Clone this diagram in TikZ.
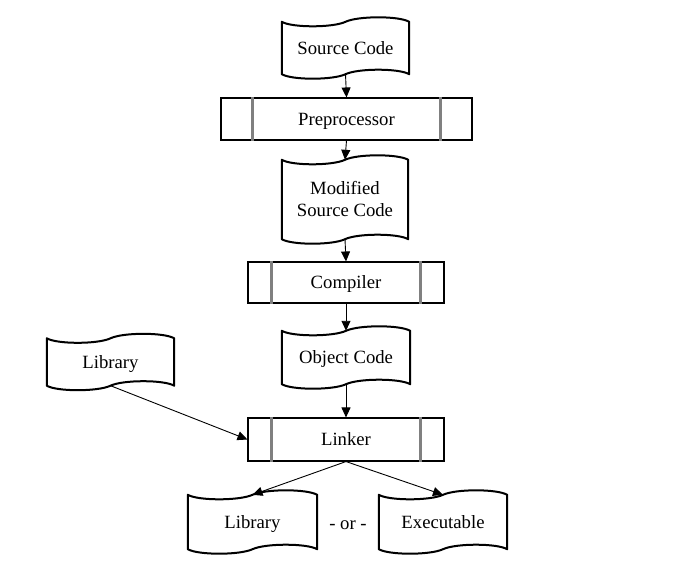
\documentclass[tikz,border=0pt]{standalone}
\usepackage{fontspec}
\setmainfont{Liberation Serif}
\usetikzlibrary{arrows.meta,calc}
\definecolor{bargray}{RGB}{128,128,128}
\tikzset{
  tapenode/.style={draw=none, inner sep=0pt, align=center, font=\fontsize{18.7}{22}\selectfont},
  tapeone/.style={tapenode, text height=12.5pt, text depth=0.5pt},
  tapeline/.style={line width=2pt, line join=round},
  procbox/.style={draw, line width=1.1pt, inner sep=0pt, text height=12.5pt, text depth=0.5pt, font=\fontsize{18.7}{22}\selectfont},
  innerline/.style={draw=bargray, line width=2.2pt},
  conn/.style={line width=0.9pt, -{Triangle[length=10pt,width=9pt]}},
  plaintext/.style={inner sep=0pt, font=\fontsize{18.7}{22}\selectfont}
}
\newcommand\drawtape[1]{%
  \draw[tapeline] let \p1=(#1.north west), \p2=(#1.south east), \n1={\x2-\x1}, \n2={6pt} in
   (\x1,\y1) .. controls (\x1+0.08*\n1,\y1-\n2) and (\x1+0.40*\n1,\y1-\n2) .. (\x1+0.5*\n1,\y1)
   .. controls (\x1+0.60*\n1,\y1+\n2) and (\x1+0.92*\n1,\y1+\n2) .. (\x2,\y1)
   -- (\x2,\y2)
   .. controls (\x1+0.92*\n1,\y2+\n2) and (\x1+0.60*\n1,\y2+\n2) .. (\x1+0.5*\n1,\y2)
   .. controls (\x1+0.40*\n1,\y2-\n2) and (\x1+0.08*\n1,\y2-\n2) .. (\x1,\y2)
   -- cycle;}
\newcommand\procbars[2]{%
  \draw[innerline] ([xshift=#2]#1.north west) -- ([xshift=#2]#1.south west);
  \draw[innerline] ([xshift=-#2]#1.north east) -- ([xshift=-#2]#1.south east);}
\begin{document}
\begin{tikzpicture}[x=1pt,y=-1pt]
\useasboundingbox (0,0) rectangle (677,565);
% tapes
\node[tapeone, minimum width=127, minimum height=52] (src) at (345.5,48) {Source Code};
\node[tapenode, minimum width=126, minimum height=79] (mod) at (345,199.5) {Modified\\Source Code};
\node[tapeone, minimum width=128, minimum height=53] (obj) at (346,357.5) {Object Code};
\node[tapeone, minimum width=127, minimum height=47] (libA) at (110.5,362) {Library};
\node[tapeone, minimum width=129, minimum height=54] (libB) at (252.5,522) {Library};
\node[tapeone, minimum width=128, minimum height=54] (exe) at (443,522) {Executable};
\drawtape{src}
\drawtape{mod}
\drawtape{obj}
\drawtape{libA}
\drawtape{libB}
\drawtape{exe}
% process boxes
\node[procbox, minimum width=251, minimum height=42] (pre) at (346.5,119) {Preprocessor};
\node[procbox, minimum width=196, minimum height=41] (cmp) at (346,282.5) {Compiler};
\node[procbox, minimum width=196, minimum height=43] (lnk) at (346,439.5) {Linker};
\procbars{pre}{32}
\procbars{cmp}{24}
\procbars{lnk}{24}
% text
\node[plaintext] (or) at (348,525) {- or -};
% connectors
\draw[conn] (src.south) -- (pre.north);
\draw[conn] (pre.south) -- (mod.north);
\draw[conn] (mod.south) -- (cmp.north);
\draw[conn] (cmp.south) -- (obj.north);
\draw[conn] (obj.south) -- (lnk.north);
\draw[conn] (libA.south) -- (lnk.west);
\draw[conn] (lnk.south) -- (libB.north);
\draw[conn] (lnk.south) -- (exe.north);
\end{tikzpicture}
\end{document}
